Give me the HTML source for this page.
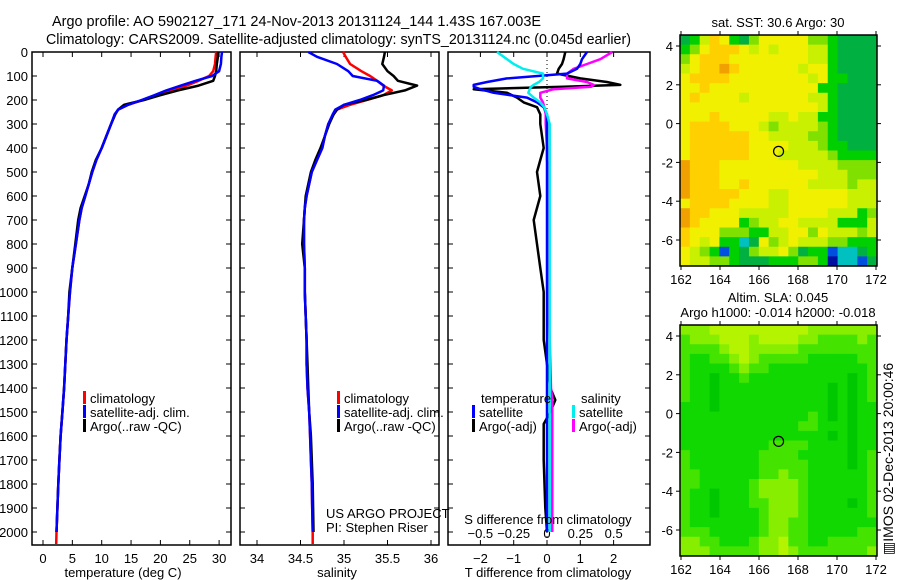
<!DOCTYPE html>
<html><head><meta charset="utf-8"><style>
html,body{margin:0;padding:0;background:#fff;width:900px;height:580px;overflow:hidden}
svg{display:block;font-family:"Liberation Sans",sans-serif}
</style></head><body>
<svg id="fig" width="900" height="580" viewBox="0 0 900 580">
<text x="52" y="26" font-size="15" textLength="489" lengthAdjust="spacingAndGlyphs">Argo profile: AO 5902127_171 24-Nov-2013 20131124_144 1.43S 167.003E</text>
<text x="46" y="44" font-size="15" textLength="585" lengthAdjust="spacingAndGlyphs">Climatology: CARS2009. Satellite-adjusted climatology: synTS_20131124.nc (0.045d earlier)</text>
<g id="g1"></g>
<g id="g2"></g>
<g id="g3"></g>
<g id="g4"></g>
<g id="g5"></g>
<text transform="translate(893,555) rotate(-90)" font-size="14">▥IMOS 02-Dec-2013 20:00:46</text>
</svg>
<script>
// ---- data ----
const depths = [0,20,50,80,100,120,140,160,180,200,220,240,260,300,350,400,450,500,550,600,650,700,800,900,1000,1100,1200,1300,1400,1500,1600,1700,1800,1900,2000,2050];
const tempClim = [29.5,29.4,29.3,29.0,28.3,26.5,24.5,22.0,19.5,17.0,14.5,12.8,12.3,11.6,10.8,10.0,9.1,8.4,7.8,7.2,6.6,6.2,5.6,5.0,4.6,4.3,4.0,3.8,3.6,3.3,3.0,2.8,2.6,2.45,2.3,2.25];
const tempSat = [30.5,30.4,30.3,30.0,28.8,26.0,23.5,21.0,19.0,16.8,14.5,12.8,12.2,11.6,10.8,10.0,9.1,8.4,7.8,7.2,6.6,6.2,5.6,5.0,4.6,4.3,4.0,3.8,3.6,3.3,3.0,2.8,2.6,2.45,2.3];
const tempArgo = [29.8,29.8,29.6,29.5,29.3,29.0,26.5,23.0,20.0,17.2,13.8,12.8,12.3,11.6,10.8,10.0,9.0,8.3,7.8,7.1,6.4,6.0,5.5,5.0,4.5,4.3,4.0,3.8,3.6,3.3,3.0,2.8,2.6,2.45,2.3];
const salClim = [34.99,35.02,35.07,35.2,35.3,35.38,35.45,35.55,35.45,35.26,35.07,34.92,34.88,34.82,34.78,34.75,34.69,34.63,34.6,34.57,34.55,34.54,34.54,34.55,34.55,34.56,34.57,34.57,34.58,34.6,34.61,34.62,34.63,34.635,34.64,34.64];
const salSat = [34.59,34.69,34.92,35.05,35.1,35.38,35.46,35.45,35.33,35.18,35.0,34.9,34.87,34.82,34.78,34.75,34.69,34.63,34.6,34.57,34.55,34.54,34.54,34.55,34.55,34.56,34.57,34.57,34.58,34.6,34.61,34.62,34.63,34.635,34.64];
const salArgo = [35.47,35.46,35.44,35.5,35.57,35.62,35.84,35.7,35.45,35.25,35.0,34.92,34.88,34.83,34.78,34.73,34.67,34.62,34.59,34.56,34.55,34.54,34.52,34.55,34.55,34.56,34.57,34.58,34.59,34.6,34.62,34.63,34.64,34.645,34.65];
const dDepths = [0,30,50,70,90,110,125,137,145,155,170,190,210,230,260,300,400,450,500,600,700,800,900,1000,1200,1400,1450,1500,1550,1700,1900,2000];
const dTSat = [1.2,1.05,1.0,0.9,0.6,-1.2,-1.8,-2.2,-2.2,-2.0,-1.6,-0.6,-0.3,-0.1,0,0,0,0,0,0,0,0,0,0,0,0,0,0,0,0,0,0];
const dTArgo = [0.55,0.5,0.45,0.35,0.3,1.0,1.8,2.2,0.5,-2.2,-1.2,-0.9,-0.7,-0.3,-0.2,-0.2,-0.1,-0.2,-0.3,-0.2,-0.4,-0.3,-0.2,-0.1,-0.1,0.1,0.25,0.1,-0.1,-0.1,-0.05,0];
const dSSat = [-0.375,-0.3,-0.25,-0.18,-0.03,-0.03,-0.06,-0.1,-0.12,-0.13,-0.14,-0.1,-0.05,-0.02,0.0,0.02,0.02,0.02,0.02,0.02,0.02,0.02,0.02,0.02,0.02,0.02,0.02,0.02,0.02,0.02,0.02,0.02];
const dSArgo = [0.49,0.4,0.3,0.2,0.15,0.15,0.3,0.35,0.33,0.05,-0.05,-0.05,-0.03,-0.02,-0.01,-0.01,0.0,0.0,0.01,0.01,0.01,0.01,0.01,0.01,0.02,0.03,0.04,0.04,0.04,0.04,0.04,0.04];
const depthTicks = [0,100,200,300,400,500,600,700,800,900,1000,1100,1200,1300,1400,1500,1600,1700,1800,1900,2000];
const tempTicks = [0,5,10,15,20,25,30];
const salTicks = [34,34.5,35,35.5,36];
const tDiffTicks = [-2,-1,0,1,2];
const sDiffTicks = [-0.5,-0.25,0,0.25,0.5];
const lonTicks = [162,164,166,168,170,172];
const latTicks = [4,2,0,-2,-4,-6];
const sstRows = [
"34687435777775543333","45788876767776643333","57888777777776643333","67889877777767743333",
"78888777777776744333","77877777777777443333","78777767777776643333","77777777777777643333",
"77787777766766443333","78888777656666543333","78888887766665543333","78888887777666544333",
"78888887776666654444","98887777777766665555","98887777777777666555","98887787777776666566",
"98888877766777777666","78888777766777777666","98877766666777766645","98777745667766664446",
"87775554466775766656","87674423756766655444","76541435667534412234","76655433344455402213"];
const slaRows = [
"33344444444443333333","23334443444433222232","22223443333322222222","21122343222221111122",
"21111232211111111112","21101121111111111012","21101111111111101012","21101111111111101012",
"11101111111111101011","11111111111112101011","11111111111122111011","11111111111111101011",
"11111111122221111011","21111111222211111012","21111111222221111012","22111111223221111112",
"22111112333321111112","21101112333321111112","21101112233321111012","21101111233321111112",
"21111111233221111111","22211111233221111122","33221112334221122222","33322222334322222223"];
const argoLon = 167.003, argoLat = -1.43;

// ---- helpers ----
const NS="http://www.w3.org/2000/svg";
function mk(parent, tag, attrs){const e=document.createElementNS(NS,tag);for(const k in attrs)e.setAttribute(k,attrs[k]);parent.appendChild(e);return e;}
const Y0=52, YS=0.24, TOP=52, BOT=545;
const yD = d => Y0 + d*YS;
function frame(g,x0,x1,top,bot,name){
  const r=mk(g,'rect',{x:x0,y:top,width:x1-x0,height:bot-top,fill:'none',stroke:'#000','stroke-width':1.5});
  
  
}
function line(g,xs,ds,xf,color,name,w){
  const pts=xs.map((v,i)=>xf(v).toFixed(1)+','+yD(ds[i]).toFixed(1)).join(' ');
  const p=mk(g,'polyline',{points:pts,fill:'none',stroke:color,'stroke-width':w||2.5,'stroke-linejoin':'round'});
  
  
}
function txt(g,x,y,s,size,anchor,name){
  const t=mk(g,'text',{x:x,y:y,'font-size':size,'text-anchor':anchor||'start'});t.textContent=s;
  
  
  return t;
}
function xticks(g,ticks,xf,top,bot,labY,fmt,name){
  ticks.forEach(v=>{const x=xf(v);
    mk(g,'line',{x1:x,x2:x,y1:bot,y2:bot-5,stroke:'#000'});
    mk(g,'line',{x1:x,x2:x,y1:top,y2:top+5,stroke:'#000'});
    if(labY)txt(g,x,labY,fmt?fmt(v):String(v),13,'middle',name);});
}
function yticks(g,x0,x1){depthTicks.forEach(d=>{const y=yD(d);
  mk(g,'line',{x1:x0,x2:x0+5,y1:y,y2:y,stroke:'#000'});mk(g,'line',{x1:x1,x2:x1-5,y1:y,y2:y,stroke:'#000'});});}
function legend(g,x,y,items){items.forEach((it,i)=>{
  const r=mk(g,'rect',{x:x,y:y+i*14-12,width:3,height:13,fill:it[1]});
  
  
  txt(g,x+7,y+i*14,it[0],13,'start','legend-entry');});}

// ---- panel 1 temperature ----
const g1=document.getElementById('g1');
const xT=v=>43+v*5.87;
frame(g1,32,231,TOP,BOT,'temperature-plot-frame');
yticks(g1,32,231);
depthTicks.forEach(d=>txt(g1,28,yD(d)+5,String(d),13,'end','depth-tick-label'));
xticks(g1,tempTicks,xT,TOP,BOT,563,null,'temperature-tick-label');
line(g1,tempClim,depths,xT,'#f00','temp-climatology-line');
line(g1,tempArgo,depths,xT,'#000','temp-argo-line');
line(g1,tempSat,depths,xT,'#00f','temp-satellite-line');
legend(g1,83,403,[['climatology','#f00'],['satellite-adj. clim.','#00f'],['Argo(..raw -QC)','#000']]);
txt(g1,123,577,'temperature (deg C)',13,'middle','temperature-axis-title');

// ---- panel 2 salinity ----
const g2=document.getElementById('g2');
const xS=v=>257+(v-34)*87;
frame(g2,240,439,TOP,BOT,'salinity-plot-frame');
yticks(g2,240,439);
xticks(g2,salTicks,xS,TOP,BOT,563,null,'salinity-tick-label');
line(g2,salClim,depths,xS,'#f00','sal-climatology-line');
line(g2,salArgo,depths,xS,'#000','sal-argo-line');
line(g2,salSat,depths,xS,'#00f','sal-satellite-line');
legend(g2,337,403,[['climatology','#f00'],['satellite-adj. clim.','#00f'],['Argo(..raw -QC)','#000']]);
txt(g2,326,518,'US ARGO PROJECT',13,'start','project-label');
txt(g2,326,532,'PI: Stephen Riser',13,'start','pi-label');
txt(g2,337,577,'salinity',13,'middle','salinity-axis-title');

// ---- panel 3 differences ----
const g3=document.getElementById('g3');
const xDT=v=>547+v*33.3, xDS=v=>547+v*133.3;
frame(g3,448,650,TOP,BOT,'difference-plot-frame');
yticks(g3,448,650);
mk(g3,'line',{x1:547,x2:547,y1:TOP,y2:BOT,stroke:'#000','stroke-dasharray':'1,3'});
xticks(g3,tDiffTicks,xDT,TOP,BOT,563,v=>v<0?'\u2212'+(-v):String(v),'t-diff-tick-label');
sDiffTicks.forEach(v=>txt(g3,xDS(v),538,v<0?'\u2212'+(-v):String(v),13,'middle','s-diff-tick-label'));
line(g3,dTArgo,dDepths,xDT,'#000','t-diff-argo-line');
line(g3,dSArgo,dDepths,xDS,'#f0f','s-diff-argo-line');
line(g3,dTSat,dDepths,xDT,'#00f','t-diff-satellite-line');
line(g3,dSSat,dDepths,xDS,'#0ee','s-diff-satellite-line');
txt(g3,481,403,'temperature',13,'start','legend-header-temperature');
txt(g3,581,403,'salinity',13,'start','legend-header-salinity');
legend(g3,472,417,[['satellite','#00f'],['Argo(-adj)','#000']]);
legend(g3,572,417,[['satellite','#0ee'],['Argo(-adj)','#f0f']]);
txt(g3,548,524,'S difference from climatology',13,'middle','s-diff-axis-title');
txt(g3,548,577,'T difference from climatology',13,'middle','t-diff-axis-title');

// ---- maps ----
const sstCols=['#0010a0','#0050e0','#00c0c0','#00b040','#00d000','#80e000','#c8f000','#f0f000','#ffd000','#f0a000'];
const slaCols=['#00c800','#11d800','#44e400','#88ee00','#b4f400'];
function map(g,rows,cols,top,title1,title2,name){
  const x0=680,x1=877,y1=top+231;
  const lonX=l=>681+(l-162)*19.5, latY=a=>top+11+(4-a)*19.4;
  const nR=rows.length,nC=rows[0].length,cw=(x1-x0)/nC,ch=(y1-top)/nR;
  rows.forEach((row,r)=>{for(let c=0;c<nC;c++){
    const cell=mk(g,'rect',{x:(x0+c*cw).toFixed(2),y:(top+r*ch).toFixed(2),width:(cw+0.4).toFixed(2),height:(ch+0.4).toFixed(2),fill:cols[+row[c]]});
    
    
  }});
  frame(g,x0,x1,top,y1,name+'-frame');
  lonTicks.forEach(l=>{const x=lonX(l);mk(g,'line',{x1:x,x2:x,y1:y1,y2:y1+4,stroke:'#000'});mk(g,'line',{x1:x,x2:x,y1:top,y2:top-4,stroke:'#000'});
    txt(g,x,y1+18,String(l),13,'middle',name+'-lon-label');});
  latTicks.forEach(a=>{const y=latY(a);mk(g,'line',{x1:x0,x2:x0-4,y1:y,y2:y,stroke:'#000'});mk(g,'line',{x1:x1,x2:x1+4,y1:y,y2:y,stroke:'#000'});
    txt(g,673,y+5,String(a),13,'end',name+'-lat-label');});
  const c=mk(g,'circle',{cx:lonX(argoLon),cy:latY(argoLat),r:5,fill:'none',stroke:'#000','stroke-width':1.2});
  
  
  if(title2){txt(g,778,top-23,title1,13,'middle',name+'-title');txt(g,778,top-8,title2,13,'middle',name+'-subtitle');}
  else txt(g,778,top-8,title1,13,'middle',name+'-title');
}
map(document.getElementById('g4'),sstRows,sstCols,35,'sat. SST: 30.6 Argo: 30',null,'sst-map');
map(document.getElementById('g5'),slaRows,slaCols,325,'Altim. SLA: 0.045','Argo h1000: -0.014 h2000: -0.018','sla-map');
</script>
</body></html>
